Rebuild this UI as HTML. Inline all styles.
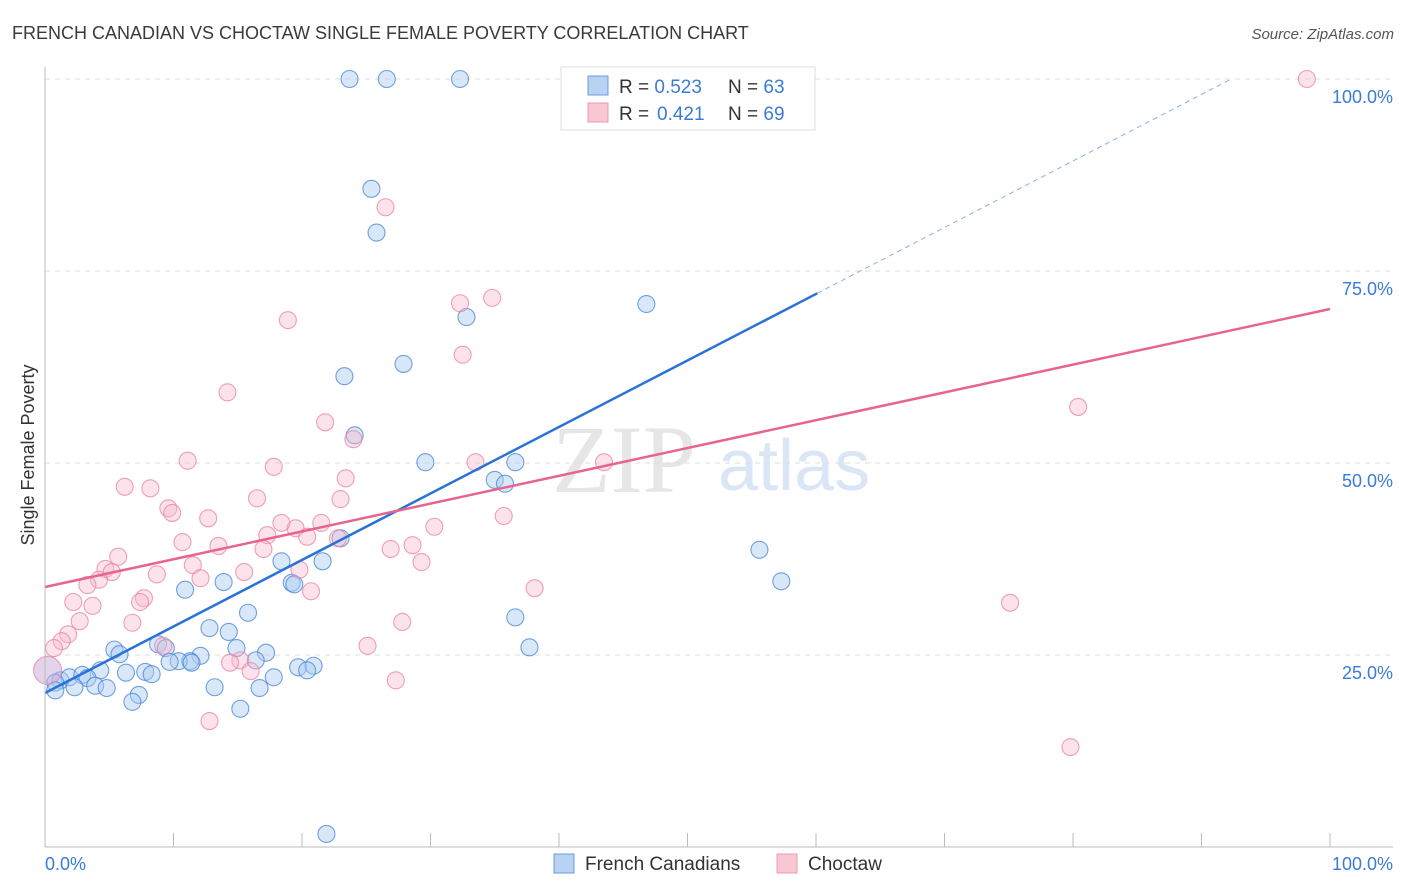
<!DOCTYPE html>
<html><head><meta charset="utf-8"><style>
body{margin:0;background:#fff;font-family:"Liberation Sans",sans-serif;}
#wrap{position:relative;width:1406px;height:892px;overflow:hidden;}
</style></head><body>
<div id="wrap">
<svg id="svg" width="1406" height="892" xmlns="http://www.w3.org/2000/svg">
<text x="12" y="39" font-size="18" fill="#3a3a3a">FRENCH CANADIAN VS CHOCTAW SINGLE FEMALE POVERTY CORRELATION CHART</text>
<text x="1394" y="39" font-size="15" fill="#555" font-style="italic" text-anchor="end">Source: ZipAtlas.com</text>
<text transform="translate(34,455) rotate(-90)" font-size="18" fill="#333" text-anchor="middle">Single Female Poverty</text>
<text x="552" y="492" font-size="96" fill="#e6e6e6" font-family="Liberation Serif,serif">ZIP</text>
<text x="718" y="490" font-size="72" fill="#dae6f5">atlas</text>
<g id="grid"></g><g id="pts"></g><g id="lines"></g>
<line x1="45" y1="67" x2="45" y2="847" stroke="#bbb"/>
<line x1="45" y1="847" x2="1393" y2="847" stroke="#bbb"/>
<text x="45" y="870" font-size="18" fill="#3a7bd5">0.0%</text>
<text x="1393" y="870" font-size="18" fill="#3a7bd5" text-anchor="end">100.0%</text>
<g>
<rect x="561" y="67" width="254" height="63" fill="#fff" stroke="#ddd"/>
<rect x="588" y="76" width="20" height="19" fill="#b8d2f4" stroke="#6a9be0"/>
<rect x="588" y="103" width="20" height="19" fill="#f9c6d4" stroke="#ec98b2"/>
<text x="619" y="93" font-size="19" fill="#333">R = <tspan fill="#3a7bd5">0.523</tspan><tspan x="728">N = </tspan><tspan fill="#3a7bd5">63</tspan></text>
<text x="619" y="120" font-size="19" fill="#333">R = <tspan x="657" fill="#3a7bd5">0.421</tspan><tspan x="728">N = </tspan><tspan fill="#3a7bd5">69</tspan></text>
</g>
<g>
<rect x="554" y="854" width="20" height="19" fill="#b8d2f4" stroke="#6a9be0"/>
<text x="585" y="870" font-size="19" fill="#333">French Canadians</text>
<rect x="777" y="854" width="20" height="19" fill="#f9c6d4" stroke="#ec98b2"/>
<text x="808" y="870" font-size="19" fill="#333">Choctaw</text>
</g>
</svg>
<script>
const yTicks=[25,50,75,100];
const yTickLabels=["25.0%","50.0%","75.0%","100.0%"];
const xTicks=[0,10,20,30,40,50,60,70,80,90,100];
const blueX=[23.7,26.6,32.3,25.4,25.8,46.8,32.8,27.9,23.3,24.1,29.6,36.6,35.0,35.8,23.0,21.6,18.4,55.6,57.3,19.2,19.4,13.9,10.9,15.8,36.6,12.8,14.3,37.7,5.4,5.8,8.8,9.4,14.9,17.2,12.1,11.3,10.4,9.7,11.4,16.4,19.7,20.9,20.4,4.3,17.8,7.8,8.3,6.3,1.2,1.9,2.9,3.3,0.8,2.3,3.9,4.8,13.2,16.7,7.3,6.8,15.2,0.8,21.9];
const blueY=[100,100,100,85.7,80.0,70.7,69.0,62.9,61.3,53.6,50.1,50.1,47.8,47.3,40.2,37.2,37.2,38.7,34.6,34.4,34.2,34.5,33.5,30.5,29.9,28.5,28.0,26.0,25.7,25.1,26.4,25.9,25.9,25.3,24.9,24.2,24.2,24.1,24.0,24.3,23.4,23.6,23.0,23.0,22.1,22.8,22.5,22.7,21.7,22.1,22.4,22.0,21.4,20.8,21.0,20.7,20.8,20.7,19.8,18.9,18.0,20.4,1.7];
const pinkX=[98.2,26.5,34.8,32.3,18.9,32.5,14.2,21.8,24.0,11.1,33.5,43.5,17.8,23.4,6.2,8.2,9.6,9.9,16.5,23.0,35.7,12.7,30.3,19.5,21.5,18.4,17.3,20.4,10.7,13.5,22.8,28.6,26.9,17.0,5.7,29.3,11.5,15.5,4.7,5.2,8.7,19.8,4.2,3.3,12.1,20.7,38.1,7.7,7.4,2.2,3.7,75.1,2.7,6.8,27.8,1.8,1.3,0.7,9.2,25.1,15.2,14.4,16.0,27.3,12.8,80.4,79.8,0.2];
const pinkY=[100,83.3,71.5,70.8,68.6,64.1,59.2,55.3,53.1,50.3,50.1,50.1,49.5,48.0,46.9,46.7,44.1,43.5,45.4,45.3,43.1,42.8,41.7,41.5,42.2,42.2,40.6,40.4,39.7,39.2,40.2,39.3,38.8,38.8,37.8,37.1,36.7,35.8,36.2,35.8,35.5,36.1,34.8,34.1,35.0,33.3,33.7,32.4,31.9,31.9,31.4,31.8,29.4,29.2,29.3,27.7,26.8,25.9,26.2,26.2,24.3,24.0,22.9,21.7,16.4,57.3,13.0,23.0];
const blueTrend=[20.05,0.866];
const pinkTrend=[33.85,0.362];
const sx=v=>45+v*12.85, sy=v=>847-v*7.68;
const NS="http://www.w3.org/2000/svg";
function mk(t,a,p){const e=document.createElementNS(NS,t);for(const k in a)e.setAttribute(k,a[k]);p.appendChild(e);return e;}
const grid=document.getElementById('grid');
yTicks.forEach((v,i)=>{
 const l=mk('line',{x1:45,x2:1393,y1:sy(v),y2:sy(v),stroke:'#ddd','stroke-dasharray':'5,5'},grid);
 
 
 const t=mk('text',{x:1393,y:sy(v)+24,'font-size':18,fill:'#3a7bd5','text-anchor':'end'},grid);
 t.textContent=yTickLabels[i];
 
 
});
xTicks.forEach(v=>{
 const l=mk('line',{x1:sx(v),x2:sx(v),y1:833,y2:847,stroke:'#bbb'},grid);
 
 
});
const pts=document.getElementById('pts');
blueX.forEach((x,i)=>{
 const c=mk('circle',{cx:sx(x),cy:sy(blueY[i]),r:8.5,fill:'rgba(170,203,242,0.45)',stroke:'rgba(70,130,215,0.75)','stroke-width':1.1},pts);
 
 
});
pinkX.forEach((x,i)=>{
 const big=(i===pinkX.length-1);
 const c=mk('circle',{cx:sx(x),cy:sy(pinkY[i]),r:big?14:8.5,fill:big?'rgba(200,170,215,0.5)':'rgba(248,185,205,0.4)',stroke:'rgba(232,130,165,0.75)','stroke-width':1.1},pts);
 
 
});
const lines=document.getElementById('lines');
const bEnd=60.1, bDash=(100-blueTrend[0])/blueTrend[1];
let l=mk('line',{x1:sx(0),y1:sy(blueTrend[0]),x2:sx(bEnd),y2:sy(blueTrend[0]+blueTrend[1]*bEnd),stroke:'#2a72d6','stroke-width':2.5},lines);


l=mk('line',{x1:sx(bEnd),y1:sy(blueTrend[0]+blueTrend[1]*bEnd),x2:sx(bDash),y2:sy(100),stroke:'#8ab0e6','stroke-width':1,'stroke-dasharray':'5,4'},lines);


l=mk('line',{x1:sx(0),y1:sy(pinkTrend[0]),x2:sx(100),y2:sy(pinkTrend[0]+pinkTrend[1]*100),stroke:'#e8648f','stroke-width':2.5},lines);


</script>
</div>
</body></html>
